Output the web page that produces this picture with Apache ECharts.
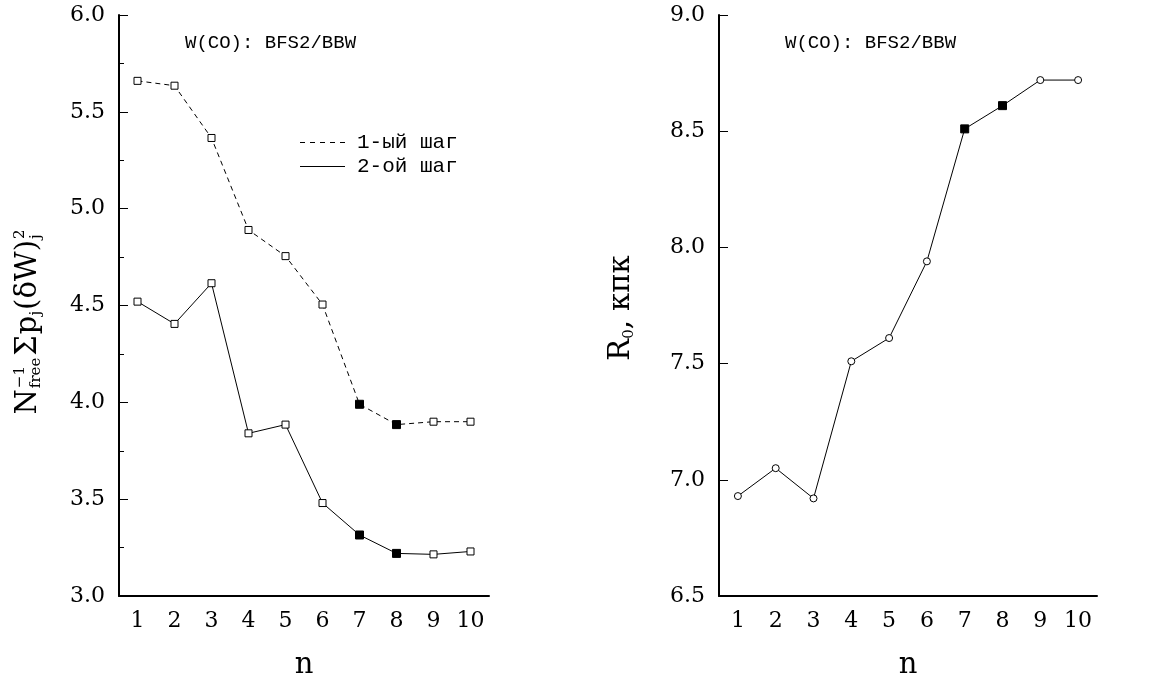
<!DOCTYPE html>
<html><head><meta charset="utf-8">
<script src="https://cdn.jsdelivr.net/npm/echarts@6/dist/echarts.min.js"></script>
<style>html,body{margin:0;padding:0;background:#fff}#c{width:1168px;height:685px}</style>
</head><body><div id="c"></div>
<script>
// ---- data ----
const categories = ['1','2','3','4','5','6','7','8','9','10'];
const step1Values = [5.66, 5.635, 5.365, 4.89, 4.755, 4.505, 3.99, 3.885, 3.9, 3.9];
const step2Values = [4.52, 4.405, 4.615, 3.84, 3.885, 3.48, 3.315, 3.22, 3.215, 3.23];
const r0Values = [6.93, 7.05, 6.92, 7.51, 7.61, 7.94, 8.51, 8.61, 8.72, 8.72];
const filledN = ['7', '8'];
const seriesNames = ['1-ый шаг', '2-ой шаг'];
const titleText = 'W(CO): BFS2/BBW';
const leftYRange = [3.0, 6.0];
const rightYRange = [6.5, 9.0];
const yStep = 0.5;
const xName = 'n';

// ---- helpers ----
const SERIF = '"DejaVu Serif"';
const cv = document.createElement('canvas').getContext('2d');
function tw(t, font) { cv.font = font; return cv.measureText(t).width; }

function pts(values, openSymbol) {
  return values.map((v, i) => {
    const f = filledN.indexOf(categories[i]) >= 0;
    return {
      value: v,
      symbol: f ? 'rect' : openSymbol,
      symbolSize: f ? 8 : 7,
      itemStyle: { color: f ? '#000' : '#fff', borderColor: '#000', borderWidth: 1 }
    };
  });
}

function xAxisCfg(gi) {
  return {
    type: 'category', gridIndex: gi, data: categories, boundaryGap: true,
    axisLine: { lineStyle: { color: '#000', width: 2 } },
    axisTick: { alignWithLabel: true, inside: true, length: 11, lineStyle: { color: '#000', width: 1 } },
    axisLabel: { margin: 14, color: '#000', fontFamily: SERIF, fontSize: 22 },
    splitLine: { show: false },
    name: xName, nameLocation: 'middle', nameGap: 55,
    nameTextStyle: { color: '#000', fontFamily: SERIF, fontSize: 29 }
  };
}
function yAxisCfg(gi, range, minor) {
  return {
    type: 'value', gridIndex: gi, min: range[0], max: range[1], interval: yStep,
    axisLine: { show: true, lineStyle: { color: '#000', width: 2 } },
    axisTick: { show: true, inside: true, length: 9, lineStyle: { color: '#000', width: 1 } },
    minorTick: { show: minor, splitNumber: 2, length: 5, lineStyle: { color: '#000', width: 1 } },
    axisLabel: { margin: 14, color: '#000', fontFamily: SERIF, fontSize: 22, formatter: v => v.toFixed(1) },
    splitLine: { show: false }
  };
}

// rotated y-axis labels built from text pieces
function buildLabel(pieces, baselineX, centerY, mainSize, smallSize) {
  const MAIN = mainSize + 'px ' + SERIF, SMALL = smallSize + 'px ' + SERIF;
  const midMain = -0.3 * mainSize;
  const midSub = 4 - 0.3 * smallSize;
  const midSup = -12 - 0.3 * smallSize;
  let x = 0; const kids = [];
  const add = (t, font, y, px) => kids.push({ type: 'text', x: px, y: y,
    style: { text: t, font: font, fill: '#000', align: 'left', verticalAlign: 'middle' } });
  pieces.forEach(p => {
    if (p.main) { add(p.main, MAIN, midMain, x); x += tw(p.main, MAIN) + (p.gap || 0); }
    else {
      let w = 0;
      if (p.sup) { add(p.sup, SMALL, midSup, x); w = Math.max(w, tw(p.sup, SMALL)); }
      if (p.sub) { add(p.sub, SMALL, midSub, x); w = Math.max(w, tw(p.sub, SMALL)); }
      x += w + (p.gap || 0);
    }
  });
  return { type: 'group', x: baselineX, y: centerY + x / 2, rotation: Math.PI / 2, children: kids, silent: true };
}

const leftLabel = buildLabel([
  { main: 'N', gap: 1 }, { sup: '−1', sub: 'free', gap: 2 }, { main: 'Σ', gap: 1 },
  { main: 'p' }, { sub: 'j', gap: 1 }, { main: '(δW)', gap: 1 }, { sup: '2', sub: 'j' }
], 37, 322, 29, 15);
const rightLabel = buildLabel([
  { main: 'R' }, { sub: '0', gap: 0 }, { main: ', кпк' }
], 630, 308, 29, 15);

const dashPath = 'path://M0,0h5v1h-5zM10,0h5v1h-5zM20,0h5v1h-5zM30,0h5v1h-5zM40,0h5v1h-5z';
const solidPath = 'path://M0,0h45v1h-45z';
const MONO = '"Liberation Mono"';

const chart = echarts.init(document.getElementById('c'), null, { renderer: 'canvas' });
chart.setOption({
  animation: false,
  backgroundColor: '#fff',
  title: [
    { text: titleText, left: 180, top: 28, textStyle: { fontFamily: MONO, fontSize: 19, fontWeight: 'normal', color: '#000' } },
    { text: titleText, left: 780, top: 28, textStyle: { fontFamily: MONO, fontSize: 19, fontWeight: 'normal', color: '#000' } }
  ],
  legend: {
    left: 295, top: 127, orient: 'vertical', itemGap: 3, itemWidth: 45, itemHeight: 12,
    selectedMode: false,
    itemStyle: { borderWidth: 0 },
    textStyle: { fontFamily: MONO, fontSize: 21, color: '#000', padding: [0, 0, 0, 7] },
    data: [ { name: seriesNames[0], icon: dashPath }, { name: seriesNames[1], icon: solidPath } ]
  },
  grid: [
    { left: 119, right: 679, top: 15, bottom: 84 },
    { left: 719, right: 71, top: 15, bottom: 84 }
  ],
  xAxis: [xAxisCfg(0), xAxisCfg(1)],
  yAxis: [yAxisCfg(0, leftYRange, true), yAxisCfg(1, rightYRange, false)],
  graphic: [leftLabel, rightLabel],
  series: [
    { name: seriesNames[0], type: 'line', xAxisIndex: 0, yAxisIndex: 0, data: pts(step1Values, 'rect'),
      itemStyle: { color: '#000' }, lineStyle: { color: '#000', width: 1, type: [5, 4] }, emphasis: { disabled: true } },
    { name: seriesNames[1], type: 'line', xAxisIndex: 0, yAxisIndex: 0, data: pts(step2Values, 'rect'),
      itemStyle: { color: '#000' }, lineStyle: { color: '#000', width: 1 }, emphasis: { disabled: true } },
    { name: 'R0', type: 'line', xAxisIndex: 1, yAxisIndex: 1, data: pts(r0Values, 'circle'),
      itemStyle: { color: '#000' }, lineStyle: { color: '#000', width: 1 }, emphasis: { disabled: true } }
  ]
});
</script></body></html>
